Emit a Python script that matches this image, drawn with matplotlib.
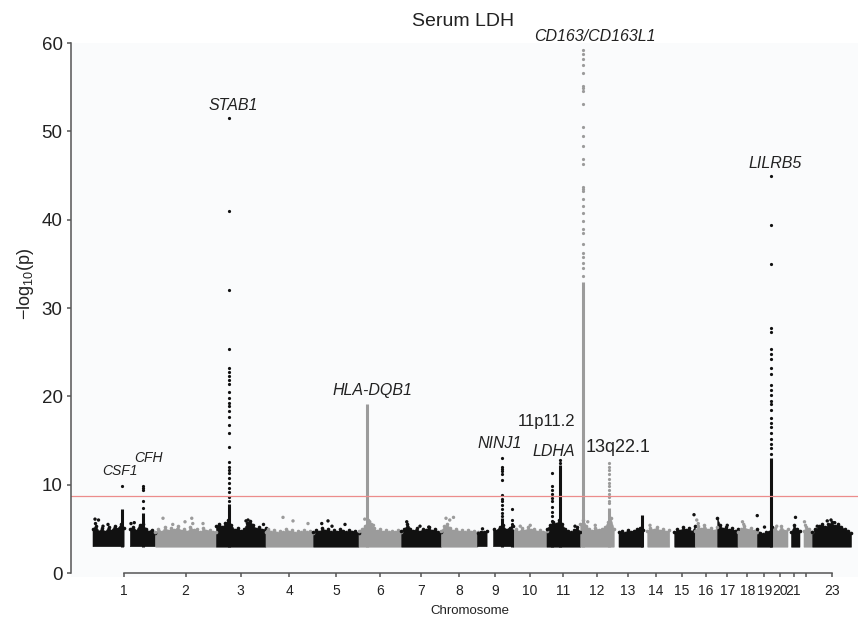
import numpy as np
import matplotlib
matplotlib.use("Agg")
import matplotlib.pyplot as plt

plt.rcParams['font.family'] = ['Liberation Sans', 'DejaVu Sans']
plt.rcParams['mathtext.default'] = 'regular'

# chromosome lengths (Mb) and first position with data
chrom_len = [249, 243, 198, 191, 181, 171, 159, 146, 141, 135, 135, 134,
             115, 107, 102, 90, 81, 78, 59, 63, 48, 51, 155]
chrom_start = [0, 0, 0, 0, 0, 0, 0, 0, 0, 0, 0, 0,
               19, 19, 20, 0, 0, 0, 0, 0, 14, 16, 0]
tick_labels = [str(i) for i in range(1, 22)] + ['', '23']

# top of the dense cloud of points along each chromosome (-log10 p)
band_tops = [
    [5.0, 5.3, 4.7, 5.1, 4.6, 5.2, 4.8, 5.3, 5.0, 5.5, 5.1, np.nan, 5.0, 5.2, 4.8, 5.4, 5.6, 5.0, 4.7, 4.9, 4.5],
    [4.6, 5.0, 4.7, 5.2, 4.8, 5.1, 4.9, 5.3, 4.8, 5.0, 4.7, 5.2, 4.9, 5.0, 4.6, 5.1, 4.8, 4.9, 4.7, 4.6],
    [5.3, 5.6, 5.2, 5.7, 6.0, 5.4, 4.9, 5.1, 4.8, 5.0, 5.7, 5.9, 5.4, 5.0, 5.2, 4.9, 5.1],
    [4.7, 5.0, 4.6, 4.9, 4.5, 4.8, 4.6, 5.0, 4.7, 4.9, 4.5, 4.8, 4.6, 4.9, 4.6, 4.8, 4.5],
    [4.6, 4.9, 4.7, 5.1, 4.8, 5.0, 4.6, 4.9, 4.7, 5.0, 4.8, 4.6, 4.9, 4.7, 4.8, 4.5],
    [4.8, 5.0, 5.3, 6.0, 5.5, 5.1, 4.8, 5.0, 4.7, 4.9, 4.6, 4.8, 4.7, 4.9, 4.6],
    [4.8, 5.0, 5.6, 5.0, 4.8, 5.1, 4.7, 5.0, 4.9, 5.2, 4.8, 5.0, 4.7, 4.6],
    [4.8, 5.3, 5.5, 5.1, 4.8, 5.0, 4.7, 4.9, 4.6, 4.9, 4.7, 4.8, 4.6],
    [4.5, 4.7, 4.6, 4.8, np.nan, 5.0, 4.8, 5.2, 5.4, 4.9, 5.1, 5.3],
    [4.8, 5.0, 4.7, 5.1, 4.8, 5.2, 4.9, 5.0, 4.7, 4.9, 4.6, 4.8],
    [5.0, 5.4, 5.8, 5.5, 6.0, 5.6, 5.0, 4.8, 4.6, 4.9, 5.2, 4.6],
    [5.5, 6.0, 5.3, 5.0, 4.8, 5.1, 4.9, 5.0, 5.2, 5.8, 6.2, 5.0],
    [4.6, 4.8, 4.5, 4.9, 4.7, 4.8, 5.0, 5.1, 4.9],
    [4.8, 5.1, 4.9, 5.2, 4.8, 5.0, 4.7, 4.9],
    [4.6, 5.0, 4.8, 5.2, 4.9, 5.1, 4.7, 5.3],
    [4.8, 5.3, 5.0, 5.4, 4.9, 5.1, 4.8, 5.2],
    [6.2, 5.4, 5.0, 5.2, 4.9, 5.1, 4.8, 5.0],
    [4.7, 5.0, 5.3, 4.9, 5.1, 4.8, 4.6],
    [5.0, 4.5, 4.4, 4.6, 4.7, 5.2],
    [4.9, 5.1, 4.7, 5.3, 4.8, 5.0],
    [4.6, 5.4, 5.0, 4.8],
    [4.8, 5.2, 5.0, 4.6],
    [4.7, 5.0, 5.3, 5.6, 5.2, 5.5, 5.8, 5.3, 5.6, 5.2, 5.0, 4.8, 4.5],
]

# scattered points sitting above the cloud
out_chr = [1, 1, 1, 1, 1, 1, 1, 2, 2, 2, 2, 2, 2, 3, 3, 3, 4, 4, 4, 5, 5, 5, 5,
           6, 6, 6, 7, 7, 7, 8, 8, 8, 9, 10, 10, 11, 12, 12, 14, 15, 16, 16,
           17, 18, 18, 19, 19, 20, 21, 22, 22, 23, 23, 23, 23]
out_pos = [8, 22, 10, 60, 152, 165, 40, 31, 119, 146, 150, 191, 70, 120, 128, 190,
           70, 110, 170, 34, 59, 75, 127, 45, 60, 25, 22, 75, 110, 20, 35, 50, 20,
           30, 70, 114, 30, 60, 30, 99, 8, 14, 40, 20, 25, 1, 30, 20, 32, 20, 24,
           60, 75, 90, 20]
out_val = [6.1, 6.0, 5.6, 5.5, 5.6, 5.7, 5.3, 6.2, 5.8, 6.2, 5.6, 5.6, 5.5, 5.9,
           6.0, 5.5, 6.3, 5.9, 5.6, 5.6, 5.9, 5.3, 5.5, 5.8, 5.4, 6.1, 5.8, 5.3,
           5.2, 6.2, 6.0, 6.3, 5.0, 5.3, 5.4, 5.3, 5.8, 5.4, 5.4, 6.6, 6.0, 5.6,
           5.4, 5.8, 5.5, 6.5, 5.2, 5.3, 6.3, 5.8, 5.4, 5.9, 6.0, 5.7, 5.3]

# association peaks: a dense run of overlapping points plus separate points above
peak_chr = [1, 1, 3, 6, 9, 9, 11, 11, 12, 12, 13, 19]
peak_pos = [115, 200, 52, 32.6, 98, 138, 22, 54, 10, 115, 113, 54.7]
peak_run_top = [7.2, 6.8, 7.8, 19.1, 6.2, 5.0, 5.6, 12.2, 33.0, 7.4, 6.6, 13.0]
peak_points = [
    [9.8],
    [7.4, 8.2, 9.4, 9.6, 9.8],
    [51.5, 41.0, 32.0, 25.4, 23.2, 22.8, 22.3, 21.9, 21.4, 20.5, 19.8, 19.3, 18.9,
     18.3, 17.7, 16.8, 15.8, 14.3, 12.6, 12.0, 11.7, 11.3, 10.8, 10.2, 9.6, 9.2,
     8.6, 8.2],
    [],
    [13.0, 12.0, 11.8, 11.5, 11.2, 10.5, 8.8, 8.4, 8.1, 7.7, 7.3, 6.8, 6.4],
    [7.3, 6.0, 5.6, 5.3],
    [11.3, 9.9, 9.4, 8.9, 8.5, 8.1, 7.5, 6.9, 6.4, 5.9],
    [12.8, 12.5],
    [59.2, 58.7, 58.2, 57.5, 56.6, 55.1, 54.9, 54.6, 53.1, 50.5, 49.5, 48.3, 46.9,
     46.3, 43.7, 43.5, 43.2, 42.3, 41.5, 40.7, 39.8, 39.0, 38.5, 37.3, 36.2, 35.8,
     35.1, 34.5, 33.6],
    [12.5, 12.0, 11.7, 11.2, 10.7, 10.2, 9.8, 9.4, 9.0, 8.6, 8.2, 7.9],
    [],
    [45.0, 39.4, 35.0, 27.7, 27.3, 25.4, 24.8, 24.2, 23.2, 22.5, 21.3, 20.7, 20.2,
     19.5, 19.1, 18.4, 17.6, 17.0, 16.5, 15.8, 15.2, 14.6, 14.1, 13.5],
]

threshold = 8.75
base = 2.98

BLACK = '#111111'
GREY = '#9b9b9b'
TXT = '#222222'

offsets = np.concatenate([[0], np.cumsum(chrom_len)[:-1]])
centers = offsets + np.array(chrom_len) / 2.0

def col(c):
    return BLACK if c % 2 == 1 else GREY

fig = plt.figure(figsize=(8.6, 6.18), dpi=100)
ax = fig.add_axes([71/860, 41/618, 787/860, 534/618])
ax.set_facecolor('#fafbfc')

for i, tops in enumerate(band_tops):
    c = i + 1
    x = offsets[i] + np.linspace(chrom_start[i], chrom_len[i], len(tops))
    y = np.array(tops, dtype=float)
    ax.fill_between(x, base, y, where=~np.isnan(y), color=col(c), lw=0.4)
    # the cloud edge is made of single points
    ax.plot(x, y, 'o', color=col(c), ms=2.6, mew=0)

ox = [offsets[c - 1] + p for c, p in zip(out_chr, out_pos)]
ax.scatter(ox, out_val, s=6, c=[col(c) for c in out_chr], lw=0)

for c, p, top, pts in zip(peak_chr, peak_pos, peak_run_top, peak_points):
    xp = offsets[c - 1] + p
    ax.vlines(xp, base, top, color=col(c), lw=2.2)
    if pts:
        ax.plot([xp] * len(pts), pts, 'o', color=col(c), ms=2.3, mew=0)

ax.axhline(threshold, color='#ec8c8c', lw=0.9)

# gene labels
it = dict(style='italic', ha='center', va='center', color=TXT)
ax.text(108, 11.5, 'CSF1', fontsize=10, **it)
ax.text(220, 13.0, 'CFH', fontsize=10, **it)
ax.text(560, 52.9, 'STAB1', fontsize=11.5, **it)
ax.text(1116, 20.7, 'HLA-DQB1', fontsize=11.5, **it)
ax.text(1628, 14.7, 'NINJ1', fontsize=11.5, **it)
ax.text(1844, 13.8, 'LDHA', fontsize=11.5, **it)
ax.text(2008, 60.7, 'CD163/CD163L1', fontsize=11.5, clip_on=False, **it)
ax.text(2728, 46.4, 'LILRB5', fontsize=11.5, **it)
ax.text(1816, 17.1, '11p11.2', fontsize=12, ha='center', va='center', color=TXT)
ax.text(2100, 14.2, '13q22.1', fontsize=13, ha='center', va='center', color=TXT)

ax.set_xlim(-88, 3060)
ax.set_ylim(-0.45, 60)

for s in ['top', 'right']:
    ax.spines[s].set_visible(False)
ax.spines['left'].set_bounds(0, 60)
ax.spines['bottom'].set_position(('data', 0))
ax.spines['bottom'].set_bounds(centers[0], centers[-1])
for s in ['left', 'bottom']:
    ax.spines[s].set_color('#555555')
    ax.spines[s].set_linewidth(1.1)

ax.set_yticks([0, 10, 20, 30, 40, 50, 60])
ax.set_xticks(centers)
ax.set_xticklabels(tick_labels)
ax.tick_params(axis='y', length=3, width=1.1, color='#555555', labelsize=13.5, pad=3,
               labelcolor=TXT)
ax.tick_params(axis='x', length=3, width=1.1, color='#555555', labelsize=10, pad=5,
               labelcolor=TXT)

fig.text(25/860, 1 - 284/618, '\u2212log$_{10}$(p)', rotation=90, fontsize=13,
         ha='center', va='center', color=TXT)
fig.text(470/860, 1 - 611/618, 'Chromosome', fontsize=9.5, ha='center', va='center',
         color=TXT)
fig.text(463/860, 1 - 26/618, 'Serum LDH', fontsize=14, ha='center', va='baseline',
         color=TXT)

fig.savefig('out.png', dpi=100)
